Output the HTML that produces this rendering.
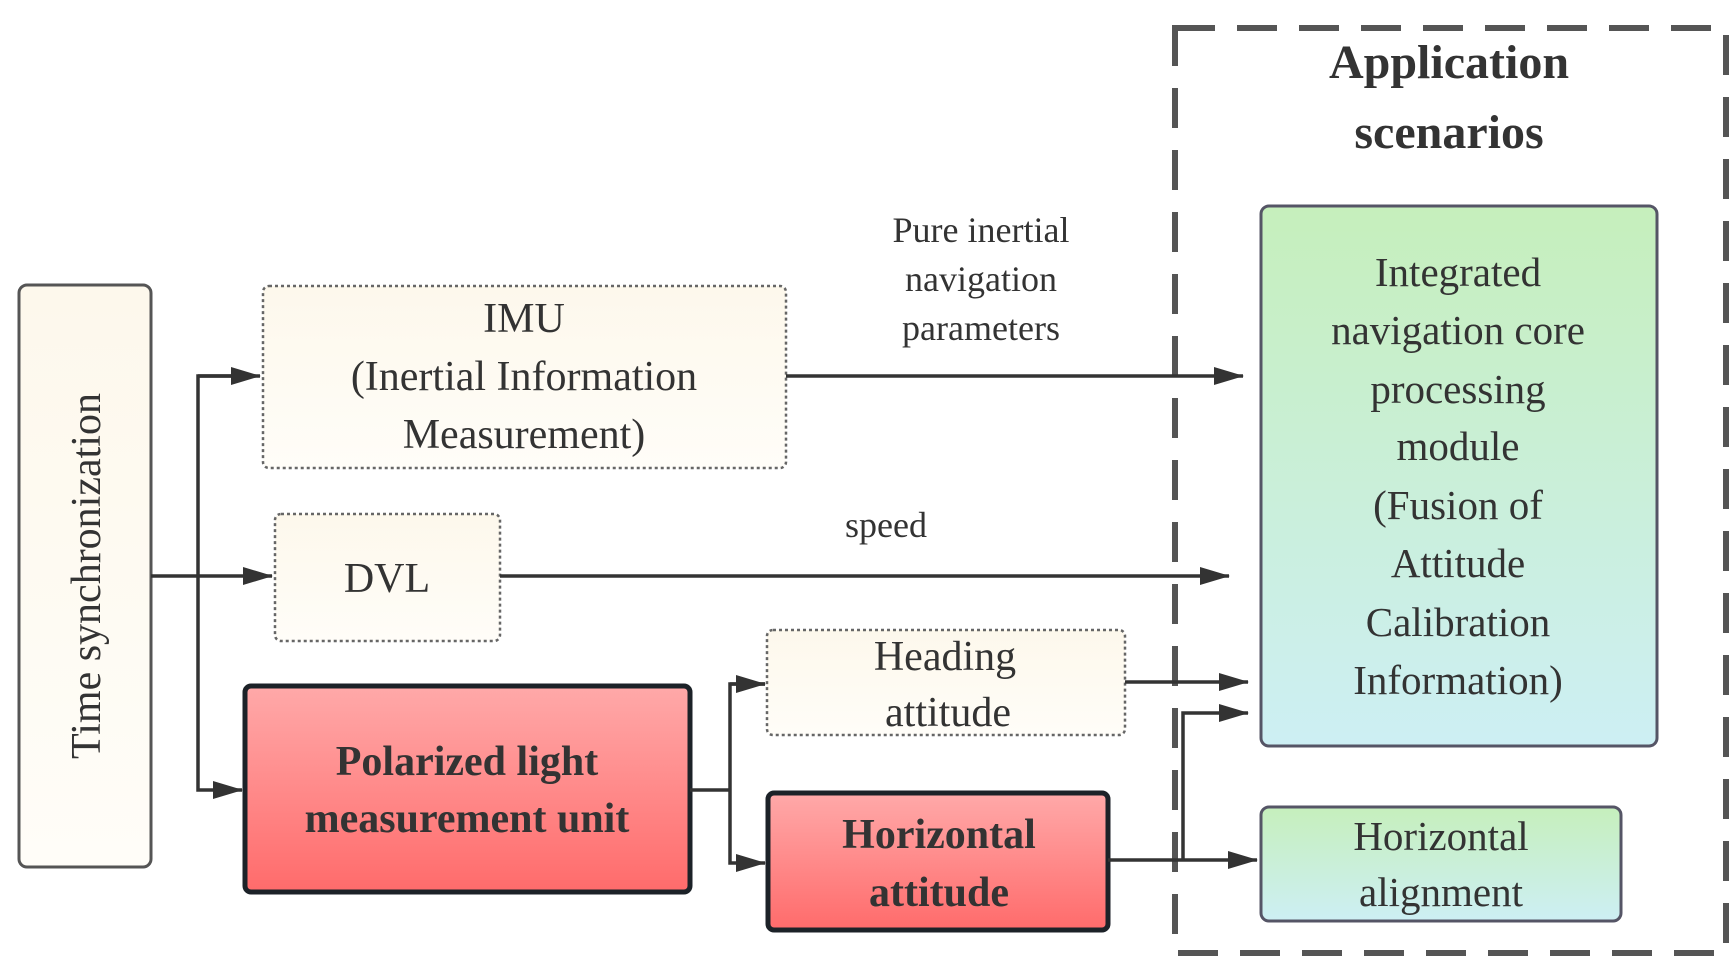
<!DOCTYPE html>
<html><head><meta charset="utf-8"><style>
html,body{margin:0;padding:0;background:#fff;}
svg{display:block;}
text{font-family:"Liberation Serif",serif;fill:#333;}
</style></head><body>
<svg width="1735" height="968" viewBox="0 0 1735 968" xmlns="http://www.w3.org/2000/svg">
<defs>
<linearGradient id="cream" x1="0" y1="0" x2="0" y2="1"><stop offset="0" stop-color="#fdf8ec"/><stop offset="1" stop-color="#fffdf8"/></linearGradient>
<linearGradient id="red" x1="0" y1="0" x2="0" y2="1"><stop offset="0" stop-color="#ffa9a9"/><stop offset="1" stop-color="#ff6b6b"/></linearGradient>
<linearGradient id="green" x1="0" y1="0" x2="0" y2="1"><stop offset="0" stop-color="#c6efbc"/><stop offset="1" stop-color="#cdeff4"/></linearGradient>
<marker id="ar" markerWidth="10" markerHeight="10" refX="9" refY="5" orient="auto" markerUnits="userSpaceOnUse" viewBox="0 0 10 10"><path d="M0,0 L10,5 L0,10 z" fill="#333"/></marker>
<marker id="arb" markerWidth="30" markerHeight="20" refX="29" refY="10" orient="auto" markerUnits="userSpaceOnUse" viewBox="0 0 30 20"><path d="M0,1 L30,10 L0,19 z" fill="#333"/></marker>
</defs>

<!-- dashed application box -->
<rect x="1175" y="28" width="551" height="925" fill="none" stroke="#555" stroke-width="6" stroke-dasharray="40,22"/>
<text x="1449" y="78" font-size="48" font-weight="bold" text-anchor="middle" fill="#222">Application</text>
<text x="1449" y="148" font-size="48" font-weight="bold" text-anchor="middle" fill="#222">scenarios</text>

<!-- boxes -->
<rect x="19" y="285" width="132" height="582" rx="8" fill="url(#cream)" stroke="#555" stroke-width="3"/>
<text transform="translate(100,576) rotate(-90)" font-size="42" text-anchor="middle" fill="#555">Time synchronization</text>

<rect x="263" y="286" width="523" height="182" rx="6" fill="url(#cream)" stroke="#666" stroke-width="2.5" stroke-dasharray="3,3"/>
<text x="524" y="332" font-size="42" text-anchor="middle">IMU</text>
<text x="524" y="390" font-size="42" text-anchor="middle">(Inertial Information</text>
<text x="524" y="448" font-size="42" text-anchor="middle">Measurement)</text>

<rect x="275" y="514" width="225" height="127" rx="6" fill="url(#cream)" stroke="#666" stroke-width="2.5" stroke-dasharray="3,3"/>
<text x="387" y="592" font-size="42" text-anchor="middle">DVL</text>

<rect x="245" y="686" width="445" height="206" rx="6" fill="url(#red)" stroke="#1c2228" stroke-width="5"/>
<text x="467" y="775" font-size="42" font-weight="bold" text-anchor="middle" fill="#2a2a2a">Polarized light</text>
<text x="467" y="832" font-size="42" font-weight="bold" text-anchor="middle" fill="#2a2a2a">measurement unit</text>

<rect x="767" y="630" width="358" height="105" rx="6" fill="url(#cream)" stroke="#666" stroke-width="2.5" stroke-dasharray="3,3"/>
<text x="945" y="670" font-size="42" text-anchor="middle">Heading</text>
<text x="948" y="726" font-size="42" text-anchor="middle">attitude</text>

<rect x="768" y="793" width="340" height="137" rx="6" fill="url(#red)" stroke="#1c2228" stroke-width="5"/>
<text x="939" y="848" font-size="42" font-weight="bold" text-anchor="middle" fill="#2a2a2a">Horizontal</text>
<text x="939" y="906" font-size="42" font-weight="bold" text-anchor="middle" fill="#2a2a2a">attitude</text>

<rect x="1261" y="206" width="396" height="540" rx="8" fill="url(#green)" stroke="#556" stroke-width="3"/>
<g font-size="41" text-anchor="middle">
<text x="1458" y="286">Integrated</text>
<text x="1458" y="344">navigation core</text>
<text x="1458" y="403">processing</text>
<text x="1458" y="460">module</text>
<text x="1458" y="519">(Fusion of</text>
<text x="1458" y="577">Attitude</text>
<text x="1458" y="636">Calibration</text>
<text x="1458" y="694">Information)</text>
</g>

<rect x="1261" y="807" width="360" height="114" rx="8" fill="url(#green)" stroke="#556" stroke-width="3"/>
<text x="1441" y="850" font-size="41" text-anchor="middle">Horizontal</text>
<text x="1441" y="906" font-size="41" text-anchor="middle">alignment</text>

<!-- labels -->
<g font-size="36" text-anchor="middle">
<text x="981" y="242">Pure inertial</text>
<text x="981" y="291">navigation</text>
<text x="981" y="340">parameters</text>
<text x="886" y="537">speed</text>
</g>

<!-- connectors -->
<g stroke="#333" stroke-width="3.5" fill="none">
<line x1="151" y1="576" x2="272" y2="576" marker-end="url(#arb)"/>
<polyline points="242,376 198,376 198,790 242,790" marker-end="url(#arb)"/>
<line x1="198" y1="376" x2="260" y2="376" marker-end="url(#arb)"/>
<line x1="786" y1="376" x2="1243" y2="376" marker-end="url(#arb)"/>
<line x1="500" y1="576" x2="1229" y2="576" marker-end="url(#arb)"/>
<line x1="690" y1="790" x2="730" y2="790"/>
<polyline points="765,684 730,684 730,863 765,863" marker-end="url(#arb)"/>
<line x1="730" y1="684" x2="765" y2="684" marker-end="url(#arb)"/>
<line x1="1125" y1="682" x2="1248" y2="682" marker-end="url(#arb)"/>
<line x1="1108" y1="860" x2="1257" y2="860" marker-end="url(#arb)"/>
<polyline points="1183,860 1183,713 1248,713" marker-end="url(#arb)"/>
</g>
</svg>
</body></html>
